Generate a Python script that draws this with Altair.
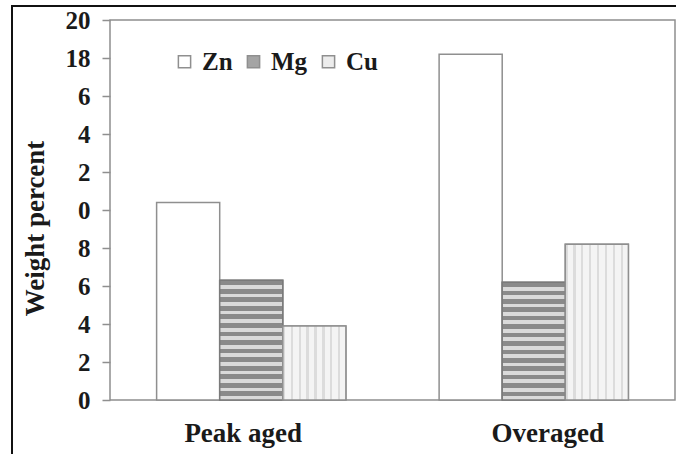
import altair as alt
import pandas as pd

# Alloy composition of the precipitates, weight percent
conditions = ["Peak aged", "Overaged"]
elements = ["Zn", "Mg", "Cu"]
zn_values = [10.4, 18.2]
mg_values = [6.3, 6.2]
cu_values = [3.9, 8.2]

# Y tick labels as printed on the axis (0 .. 20 in steps of 2)
y_tick_values = [0, 2, 4, 6, 8, 10, 12, 14, 16, 18, 20]
y_tick_labels = ["0", "2", "4", "6", "8", "0", "2", "4", "6", "18", "20"]

rows = []
for i, cond in enumerate(conditions):
    for el, vals in zip(elements, [zn_values, mg_values, cu_values]):
        rows.append({"condition": cond, "element": el, "value": vals[i]})
df = pd.DataFrame(rows)

FONT = "Liberation Serif"
GREY = "#8f8f8f"
INK = "#1a1a1a"


def stripes(dark, light, n, frac, vertical=True):
    """Hard-edged linear gradient that reads as a striped fill."""
    stops = []
    for k in range(n):
        a = k / n
        b = (k + frac) / n
        c = (k + 1) / n
        stops += [
            alt.GradientStop(color=dark, offset=a),
            alt.GradientStop(color=dark, offset=b),
            alt.GradientStop(color=light, offset=b),
            alt.GradientStop(color=light, offset=c),
        ]
    if vertical:
        return alt.LinearGradient(gradient="linear", stops=stops, x1=0, x2=0, y1=0, y2=1)
    return alt.LinearGradient(gradient="linear", stops=stops, x1=0, x2=1, y1=0, y2=0)


x_enc = alt.X(
    "condition:N",
    sort=conditions,
    scale=alt.Scale(paddingInner=0.33, paddingOuter=0.165),
    axis=alt.Axis(
        title=None,
        labelAngle=0,
        labelFontSize=27,
        labelPadding=20,
        labelOffset={"condition": {"test": "datum.value == 'Peak aged'", "value": -8}, "value": 14},
        ticks=False,
        domain=False,
    ),
)
xoff_enc = alt.XOffset("element:N", sort=elements, scale=alt.Scale(domain=elements, paddingInner=0, paddingOuter=0))
y_enc = alt.Y(
    "value:Q",
    scale=alt.Scale(domain=[0, 20], nice=False),
    axis=alt.Axis(
        title="Weight percent",
        values=y_tick_values,
        labelExpr="%s[datum.value / 2]" % str(y_tick_labels),
        labelFontSize=25,
        labelPadding=12,
        tickSize=8,
        tickColor=GREY,
        tickWidth=1.5,
        domain=False,
        grid=False,
        titleFontSize=27,
        titleBaseline="middle",
        titleX=-75,
        titleY=208,
    ),
)

base = alt.Chart(df)

bars = base.mark_bar(stroke=GREY, strokeWidth=1.5).encode(
    x=x_enc,
    xOffset=xoff_enc,
    y=y_enc,
    fill=alt.Fill(
        "element:N",
        sort=elements,
        scale=alt.Scale(domain=elements, range=["#ffffff", "#a4a4a4", "#ececec"]),
        legend=alt.Legend(
            title=None,
            orient="none",
            legendX=62,
            legendY=29,
            direction="horizontal",
            symbolType="square",
            symbolSize=150,
            symbolStrokeColor=GREY,
            symbolStrokeWidth=1.5,
            labelFontSize=25,
            labelOffset=5,
            columnPadding=8,
        ),
    ),
)

mg_bars = base.transform_filter(alt.datum.element == "Mg").mark_bar(
    fill=stripes("#8a8a8a", "#dadada", 14, 0.55), stroke="#7a7a7a", strokeWidth=1.5
).encode(x=x_enc, xOffset=xoff_enc, y=y_enc)

cu_bars = base.transform_filter(alt.datum.element == "Cu").mark_bar(
    fill=stripes("#dcdcdc", "#f4f4f4", 8, 0.3, vertical=False), stroke=GREY, strokeWidth=1.5
).encode(x=x_enc, xOffset=xoff_enc, y=y_enc)

# Black border framing the whole figure
frame = alt.Chart(alt.Data(values=[{}])).mark_rect(
    fill=None, stroke="#111111", strokeWidth=2
).encode(x=alt.value(-98), x2=alt.value(580), y=alt.value(-14), y2=alt.value(450))

chart = (
    alt.layer(bars, mg_bars, cu_bars, frame)
    .properties(
        width=565,
        height=380,
        autosize=alt.AutoSizeParams(type="none"),
        padding={"left": 110, "top": 20, "right": 1, "bottom": 54},
        background="#ffffff",
    )
    .configure(font=FONT)
    .configure_axis(
        labelFont=FONT,
        titleFont=FONT,
        labelFontWeight="bold",
        titleFontWeight="bold",
        labelColor=INK,
        titleColor=INK,
    )
    .configure_legend(labelFont=FONT, labelFontWeight="bold", labelColor=INK)
    .configure_view(stroke=GREY, strokeWidth=1.5)
)

chart.save("out.html", embed_options={"renderer": "svg", "actions": False})
